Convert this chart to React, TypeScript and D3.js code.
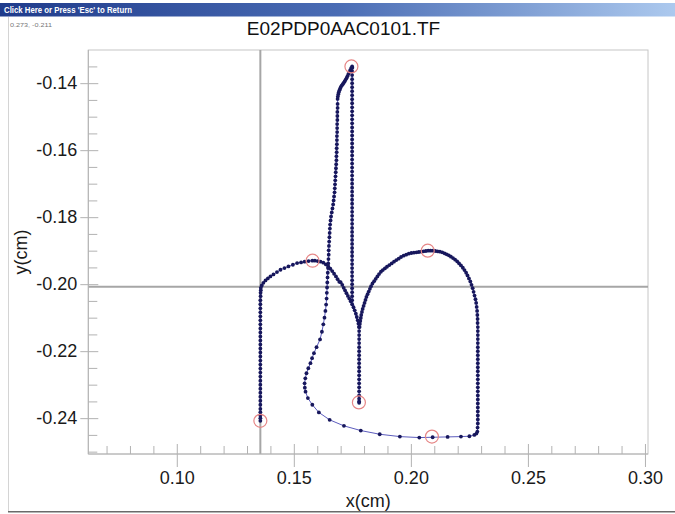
import React, { useEffect, useRef } from 'react';
import * as d3 from 'd3';

type Pt = [number, number];

// pen trace (x cm, y cm)
const leftStem: Pt[] = [
  [0.1357, -0.2408], [0.1357, -0.2400], [0.1357, -0.2392], [0.1357, -0.2382], [0.1357, -0.2372],
  [0.1357, -0.2360], [0.1357, -0.2348], [0.1357, -0.2336], [0.1357, -0.2324], [0.1357, -0.2312],
  [0.1357, -0.2300], [0.1357, -0.2288], [0.1357, -0.2276], [0.1357, -0.2264], [0.1357, -0.2252],
  [0.1357, -0.2240], [0.1357, -0.2228], [0.1357, -0.2216], [0.1357, -0.2204], [0.1357, -0.2192],
  [0.1357, -0.2180], [0.1357, -0.2168], [0.1357, -0.2156], [0.1357, -0.2144], [0.1357, -0.2132],
  [0.1357, -0.2120], [0.1357, -0.2108], [0.1357, -0.2096], [0.1357, -0.2084], [0.1357, -0.2072],
  [0.1357, -0.2060], [0.1357, -0.2048], [0.1358, -0.2036], [0.1358, -0.2026], [0.1359, -0.2018],
];

const leftArch: Pt[] = [
  [0.1359, -0.2011], [0.1363, -0.2004], [0.1370, -0.1996], [0.1379, -0.1989], [0.1389, -0.1983],
  [0.1400, -0.1977], [0.1413, -0.1971], [0.1428, -0.1964], [0.1443, -0.1957], [0.1460, -0.1952],
  [0.1477, -0.1947], [0.1496, -0.1942], [0.1514, -0.1937], [0.1531, -0.1935], [0.1546, -0.1933],
  [0.1563, -0.1931], [0.1579, -0.1930], [0.1590, -0.1930], [0.1602, -0.1931], [0.1614, -0.1933],
  [0.1626, -0.1936], [0.1637, -0.1941], [0.1647, -0.1947], [0.1656, -0.1954], [0.1664, -0.1961],
  [0.1672, -0.1969], [0.1680, -0.1977], [0.1687, -0.1985], [0.1694, -0.1993], [0.1700, -0.1994],
  [0.1707, -0.2002], [0.1713, -0.2011], [0.1719, -0.2019], [0.1725, -0.2027], [0.1731, -0.2035],
  [0.1737, -0.2043], [0.1743, -0.2051], [0.1749, -0.2060],
];

const archJoin: Pt[] = [
  [0.1755, -0.2069], [0.1760, -0.2078], [0.1765, -0.2088], [0.1769, -0.2098], [0.1773, -0.2108],
  [0.1776, -0.2118], [0.1778, -0.2128],
];

const spikeUp: Pt[] = [
  [0.1749, -0.2048], [0.1749, -0.2036], [0.1749, -0.2024], [0.1749, -0.2012], [0.1749, -0.2000],
  [0.1749, -0.1988], [0.1749, -0.1976], [0.1749, -0.1964], [0.1749, -0.1952], [0.1749, -0.1940],
  [0.1749, -0.1928], [0.1749, -0.1916], [0.1749, -0.1904], [0.1749, -0.1892], [0.1749, -0.1880],
  [0.1749, -0.1868], [0.1749, -0.1856], [0.1749, -0.1844], [0.1749, -0.1832], [0.1749, -0.1820],
  [0.1749, -0.1808], [0.1749, -0.1796], [0.1749, -0.1784], [0.1749, -0.1772], [0.1749, -0.1760],
  [0.1749, -0.1748], [0.1749, -0.1736], [0.1749, -0.1724], [0.1749, -0.1712], [0.1749, -0.1700],
  [0.1749, -0.1688], [0.1749, -0.1676], [0.1749, -0.1664], [0.1749, -0.1652], [0.1749, -0.1640],
  [0.1749, -0.1628], [0.1749, -0.1616], [0.1749, -0.1604], [0.1749, -0.1592], [0.1749, -0.1580],
  [0.1749, -0.1568], [0.1749, -0.1556], [0.1749, -0.1544], [0.1749, -0.1532], [0.1749, -0.1520],
  [0.1749, -0.1508], [0.1749, -0.1496], [0.1749, -0.1484], [0.1749, -0.1472], [0.1749, -0.1460],
  [0.1749, -0.1448], [0.1749, -0.1436], [0.1749, -0.1424], [0.1749, -0.1412], [0.1749, -0.1400],
  [0.1749, -0.1388], [0.1749, -0.1376], [0.1749, -0.1364], [0.1750, -0.1354],
];

const spikeTop: Pt[] = [
  [0.1749, -0.1350], [0.1745, -0.1355], [0.1741, -0.1361], [0.1737, -0.1367], [0.1733, -0.1373],
  [0.1729, -0.1379], [0.1725, -0.1385], [0.1721, -0.1390], [0.1717, -0.1395], [0.1713, -0.1399],
  [0.1709, -0.1403], [0.1705, -0.1407], [0.1701, -0.1411], [0.1698, -0.1416], [0.1695, -0.1421],
  [0.1692, -0.1427], [0.1690, -0.1433], [0.1688, -0.1440], [0.1687, -0.1447],
];

const spikeDown: Pt[] = [
  [0.1687, -0.1462], [0.1687, -0.1474], [0.1686, -0.1486], [0.1686, -0.1498], [0.1686, -0.1510],
  [0.1685, -0.1522], [0.1685, -0.1534], [0.1685, -0.1546], [0.1684, -0.1558], [0.1684, -0.1570],
  [0.1684, -0.1582], [0.1683, -0.1594], [0.1683, -0.1606], [0.1682, -0.1618], [0.1682, -0.1630],
  [0.1681, -0.1642], [0.1680, -0.1654], [0.1679, -0.1666], [0.1678, -0.1678], [0.1677, -0.1690],
  [0.1676, -0.1702], [0.1675, -0.1714], [0.1674, -0.1726], [0.1672, -0.1738], [0.1670, -0.1750],
  [0.1668, -0.1762], [0.1665, -0.1774], [0.1662, -0.1786], [0.1659, -0.1798], [0.1657, -0.1810],
  [0.1655, -0.1822], [0.1654, -0.1834], [0.1653, -0.1847], [0.1652, -0.1860], [0.1651, -0.1873],
  [0.1650, -0.1886], [0.1649, -0.1899], [0.1649, -0.1912], [0.1648, -0.1925], [0.1647, -0.1938],
  [0.1646, -0.1952], [0.1645, -0.1966], [0.1644, -0.1980], [0.1643, -0.1995], [0.1642, -0.2010],
  [0.1641, -0.2026], [0.1640, -0.2043], [0.1638, -0.2061], [0.1635, -0.2080], [0.1631, -0.2100],
  [0.1626, -0.2120], [0.1620, -0.2142], [0.1612, -0.2165],
];

const loop: Pt[] = [
  [0.1597, -0.2188], [0.1586, -0.2206], [0.1578, -0.2221], [0.1571, -0.2236], [0.1562, -0.2251],
  [0.1554, -0.2266], [0.1549, -0.2281], [0.1546, -0.2296], [0.1547, -0.2309], [0.1550, -0.2321],
  [0.1560, -0.2340], [0.1579, -0.2360], [0.1607, -0.2383], [0.1653, -0.2405], [0.1714, -0.2423],
  [0.1786, -0.2437], [0.1867, -0.2448], [0.1953, -0.2455], [0.2036, -0.2458], [0.2093, -0.2457],
  [0.2157, -0.2456], [0.2214, -0.2455], [0.2250, -0.2454], [0.2271, -0.2450], [0.2280, -0.2446],
];

const rightStem: Pt[] = [
  [0.2284, -0.2440], [0.2285, -0.2428], [0.2286, -0.2416], [0.2286, -0.2404], [0.2286, -0.2392],
  [0.2286, -0.2380], [0.2286, -0.2368], [0.2286, -0.2356], [0.2286, -0.2344], [0.2286, -0.2332],
  [0.2286, -0.2320], [0.2286, -0.2308], [0.2286, -0.2296], [0.2286, -0.2284], [0.2286, -0.2272],
  [0.2286, -0.2260], [0.2286, -0.2248], [0.2286, -0.2236], [0.2286, -0.2224], [0.2286, -0.2212],
  [0.2286, -0.2200], [0.2286, -0.2188], [0.2286, -0.2176], [0.2286, -0.2164], [0.2286, -0.2152],
  [0.2286, -0.2140], [0.2286, -0.2128], [0.2285, -0.2116], [0.2285, -0.2104], [0.2284, -0.2092],
  [0.2283, -0.2080], [0.2281, -0.2068], [0.2279, -0.2056], [0.2276, -0.2045], [0.2272, -0.2034],
  [0.2268, -0.2023], [0.2264, -0.2012], [0.2259, -0.2002], [0.2254, -0.1992], [0.2248, -0.1983],
  [0.2242, -0.1974], [0.2236, -0.1966], [0.2229, -0.1958], [0.2222, -0.1951], [0.2214, -0.1944],
];

const rightArch: Pt[] = [
  [0.2206, -0.1938], [0.2198, -0.1932], [0.2189, -0.1927], [0.2180, -0.1922], [0.2171, -0.1918],
  [0.2162, -0.1914], [0.2153, -0.1911], [0.2144, -0.1908], [0.2134, -0.1905], [0.2124, -0.1903],
  [0.2114, -0.1902], [0.2104, -0.1901], [0.2094, -0.1900], [0.2084, -0.1900], [0.2074, -0.1900],
  [0.2064, -0.1901], [0.2054, -0.1902], [0.2044, -0.1903], [0.2034, -0.1904], [0.2024, -0.1905],
  [0.2013, -0.1906], [0.2002, -0.1907], [0.1991, -0.1909], [0.1980, -0.1912], [0.1969, -0.1915],
  [0.1958, -0.1919], [0.1948, -0.1924], [0.1938, -0.1928], [0.1928, -0.1933], [0.1918, -0.1938],
  [0.1908, -0.1943], [0.1898, -0.1948], [0.1889, -0.1953], [0.1880, -0.1958], [0.1872, -0.1963],
  [0.1864, -0.1970], [0.1857, -0.1977], [0.1850, -0.1984], [0.1843, -0.1991], [0.1836, -0.1998],
  [0.1830, -0.2006], [0.1825, -0.2014], [0.1820, -0.2022], [0.1815, -0.2030], [0.1810, -0.2038],
  [0.1806, -0.2047], [0.1802, -0.2056], [0.1798, -0.2065], [0.1794, -0.2074], [0.1791, -0.2083],
  [0.1788, -0.2092], [0.1786, -0.2101], [0.1784, -0.2110], [0.1782, -0.2119], [0.1781, -0.2128],
];

const tail: Pt[] = [
  [0.1779, -0.2140], [0.1779, -0.2152], [0.1779, -0.2164], [0.1779, -0.2176], [0.1779, -0.2188],
  [0.1779, -0.2200], [0.1779, -0.2212], [0.1779, -0.2224], [0.1779, -0.2236], [0.1779, -0.2248],
  [0.1779, -0.2260], [0.1779, -0.2272], [0.1779, -0.2284], [0.1779, -0.2296], [0.1779, -0.2308],
  [0.1779, -0.2320], [0.1779, -0.2332], [0.1779, -0.2342], [0.1779, -0.2350], [0.1779, -0.2354],
];

// red rings on the feature points
const markers: Pt[] = [
  [0.1357, -0.2408], [0.1580, -0.1930], [0.1746, -0.1350],
  [0.1778, -0.2353], [0.2072, -0.1900], [0.2090, -0.2455],
];

const cursor: Pt = [0.1357, -0.2008];
const xTicks = [0.10, 0.15, 0.20, 0.25, 0.30];
const yTicks = [-0.24, -0.22, -0.20, -0.18, -0.16, -0.14];
const title = 'E02PDP0AAC0101.TF';
const barText = "Click Here or Press 'Esc' to Return";
const cursorText = '0.273, -0.211';

const W = 675;
const H = 514;
const FONT = '"Liberation Sans", Arial, sans-serif';

const App = () => {
  const svgRef = useRef<SVGSVGElement>(null);

  useEffect(() => {
    const svg = d3.select(svgRef.current);
    svg.selectAll('*').remove();

    const left = 88.3, right = 648, top = 50, bottom = 454;
    const x = d3.scaleLinear().domain([0.0622, 0.3013]).range([left, right]);
    const y = d3.scaleLinear().domain([-0.2507, -0.1301]).range([bottom, top]);

    svg.append('rect').attr('width', W).attr('height', H).attr('fill', '#fff');

    // window title bar
    const grad = svg.append('defs').append('linearGradient').attr('id', 'bar');
    grad.append('stop').attr('offset', '0%').attr('stop-color', '#1f3b8b');
    grad.append('stop').attr('offset', '50%').attr('stop-color', '#4a6cb4');
    grad.append('stop').attr('offset', '100%').attr('stop-color', '#acc9ee');
    svg.append('rect').attr('x', 0).attr('y', 3).attr('width', W).attr('height', 13.5).attr('fill', 'url(#bar)');
    svg.append('text').attr('x', 4).attr('y', 13).attr('fill', '#fff')
      .attr('font-family', FONT).attr('font-weight', 'bold').attr('font-size', 8.5)
      .attr('textLength', 128).attr('lengthAdjust', 'spacingAndGlyphs').text(barText);
    svg.append('text').attr('x', 10).attr('y', 26.5).attr('fill', '#777')
      .attr('font-family', FONT).attr('font-size', 6)
      .attr('textLength', 42).attr('lengthAdjust', 'spacingAndGlyphs').text(cursorText);

    // frame
    svg.append('line').attr('x1', 8.5).attr('x2', 8.5).attr('y1', 17).attr('y2', 512)
      .attr('stroke', '#d4d4d4');
    svg.append('line').attr('x1', 8).attr('x2', W).attr('y1', 511.8).attr('y2', 511.8)
      .attr('stroke', '#6a6a6a').attr('stroke-width', 1.5);

    svg.append('text').attr('x', 343.5).attr('y', 35).attr('text-anchor', 'middle')
      .attr('font-family', FONT).attr('font-size', 19).attr('fill', '#111').text(title);

    // plot box
    svg.append('rect').attr('x', left).attr('y', top).attr('width', right - left).attr('height', bottom - top)
      .attr('fill', 'none').attr('stroke', '#c6c6c6');

    // crosshair
    svg.append('line').attr('x1', x(cursor[0])).attr('x2', x(cursor[0])).attr('y1', top).attr('y2', bottom)
      .attr('stroke', '#a6a6a6').attr('stroke-width', 2);
    svg.append('line').attr('x1', left).attr('x2', right).attr('y1', y(cursor[1])).attr('y2', y(cursor[1]))
      .attr('stroke', '#a6a6a6').attr('stroke-width', 2);

    const isMajor = (v: number, step: number) => Math.abs(v / step - Math.round(v / step)) < 1e-6;
    const yMinor = d3.range(-0.250, -0.1349, 0.005).filter(v => !isMajor(v, 0.02));
    const xMinor = d3.range(0.07, 0.3001, 0.01).filter(v => !isMajor(v, 0.05));

    const styleAxis = (g: any) => {
      g.select('.domain').remove();
      g.selectAll('.tick line').attr('stroke', '#b2b2b2');
      g.selectAll('.tick text').attr('font-family', FONT).attr('font-size', 18).attr('fill', '#1a1a1a');
    };

    // y axis: labelled ticks outside, major + minor ticks inside
    svg.append('g').attr('transform', `translate(${left},0)`)
      .call(d3.axisLeft(y).tickValues(yTicks).tickSize(8).tickPadding(3).tickFormat(d => (+d).toFixed(2)))
      .call(styleAxis);
    svg.append('g').attr('transform', `translate(${left},0)`)
      .call(d3.axisLeft(y).tickValues(yTicks).tickSize(-10).tickFormat(() => ''))
      .call(styleAxis);
    svg.append('g').attr('transform', `translate(${left},0)`)
      .call(d3.axisLeft(y).tickValues(yMinor).tickSize(-9).tickFormat(() => ''))
      .call(styleAxis);

    svg.append('g').attr('transform', `translate(0,${bottom})`)
      .call(d3.axisBottom(x).tickValues(xTicks).tickSize(13).tickPadding(4).tickFormat(d => (+d).toFixed(2)))
      .call(styleAxis);
    svg.append('g').attr('transform', `translate(0,${bottom})`)
      .call(d3.axisBottom(x).tickValues(xTicks).tickSize(-10).tickFormat(() => ''))
      .call(styleAxis);
    svg.append('g').attr('transform', `translate(0,${bottom})`)
      .call(d3.axisBottom(x).tickValues(xMinor).tickSize(-8).tickFormat(() => ''))
      .call(styleAxis);

    svg.append('line').attr('x1', left).attr('x2', left).attr('y1', top).attr('y2', bottom).attr('stroke', '#b2b2b2');
    svg.append('line').attr('x1', left).attr('x2', right).attr('y1', bottom).attr('y2', bottom).attr('stroke', '#b2b2b2');

    svg.append('text').attr('x', (left + right) / 2).attr('y', 507).attr('text-anchor', 'middle')
      .attr('font-family', FONT).attr('font-size', 18).attr('fill', '#1a1a1a').text('x(cm)');
    svg.append('text').attr('transform', `translate(27,${(top + bottom) / 2}) rotate(-90)`)
      .attr('text-anchor', 'middle')
      .attr('font-family', FONT).attr('font-size', 18).attr('fill', '#1a1a1a').text('y(cm)');

    // trace
    const pts: Pt[] = [
      ...leftStem, ...leftArch, ...archJoin, ...spikeUp, ...spikeTop, ...spikeDown,
      ...loop, ...rightStem, ...rightArch, ...tail,
    ];
    const line = d3.line<Pt>().x(d => x(d[0])).y(d => y(d[1]));
    svg.append('path').datum(pts).attr('d', line).attr('fill', 'none')
      .attr('stroke', '#4a4ab6').attr('stroke-width', 0.9);
    svg.append('g').selectAll('circle').data(pts).enter().append('circle')
      .attr('cx', d => x(d[0])).attr('cy', d => y(d[1])).attr('r', 1.9).attr('fill', '#17175c');

    svg.append('g').selectAll('circle').data(markers).enter().append('circle')
      .attr('cx', d => x(d[0])).attr('cy', d => y(d[1])).attr('r', 6.5)
      .attr('fill', 'none').attr('stroke', '#e68686').attr('stroke-width', 1.2);
  }, []);

  return (
    <div style={{ position: 'absolute', left: 0, top: 0 }}>
      <svg ref={svgRef} width={W} height={H} style={{ display: 'block' }} />
    </div>
  );
};

export default App;
